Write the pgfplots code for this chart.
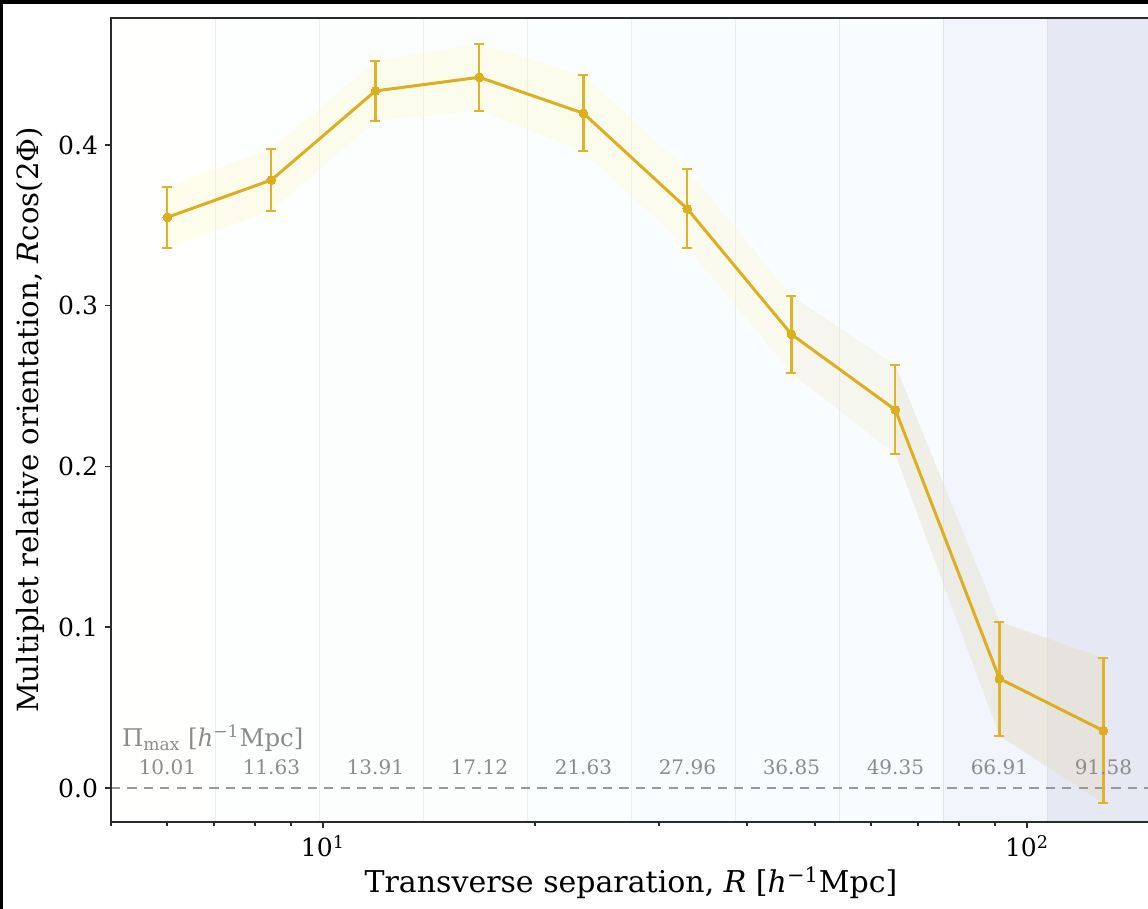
\documentclass[border=0pt]{standalone}
\usepackage{fontspec}
\setmainfont{DejaVu Serif}
\usepackage{pgfplots}
\pgfplotsset{compat=1.18}
\definecolor{gold}{HTML}{DDAE1E}
\definecolor{goldbar}{HTML}{DFB22A}
\definecolor{pigray}{HTML}{8C8C8C}
\definecolor{spine}{HTML}{2B2B2B}
\definecolor{bgA}{HTML}{FFFFFE}
\definecolor{bgB}{HTML}{FDFEFE}
\definecolor{bgC}{HTML}{FCFEFE}
\definecolor{bgD}{HTML}{FCFEFE}
\definecolor{bgE}{HTML}{FBFEFF}
\definecolor{bgF}{HTML}{FAFDFF}
\definecolor{bgG}{HTML}{FAFDFF}
\definecolor{bgH}{HTML}{F9FCFE}
\definecolor{bgI}{HTML}{F3F5FD}
\definecolor{bgJ}{HTML}{E6E8F4}
\definecolor{bandA}{HTML}{FFFAC0}
\definecolor{bandB}{HTML}{FCF8C8}
\definecolor{bandC}{HTML}{EFEBD0}
\definecolor{bandD}{HTML}{E4E0CC}
\definecolor{bandF}{HTML}{E6DFCC}
\pgfplotstableread{
x y e
6.0128 0.3550 0.0188
8.4486 0.3782 0.0194
11.8712 0.4336 0.0186
16.6804 0.4421 0.0207
23.4378 0.4197 0.0237
32.9327 0.3602 0.0246
46.2741 0.2822 0.0240
65.0202 0.2352 0.0277
91.3605 0.0680 0.0355
128.37 0.0356 0.0452
}\datatable
\begin{document}
\begin{tikzpicture}[x=1pt,y=1pt]
\useasboundingbox (0,0) rectangle (574,-454.5);
\clip (0,0) rectangle (574,-454.5);
\fill[white] (0,0) rectangle (574,-454.5);
\begin{axis}[
  at={(55.5pt,-411pt)}, anchor=south west,
  scale only axis, width=520pt, height=402pt,
  xmode=log, xmin=5, xmax=150, ymin=-0.0212, ymax=0.479,
  axis on top,
  axis line style={spine, line width=0.9pt},
  tick style={spine, line width=0.8pt},
  tick align=outside, tick pos=left,
  major tick length=3pt, minor tick length=2pt,
  xtick={10,100}, xticklabels={10\textsuperscript{1},10\textsuperscript{2}},
  minor xtick={5,6,7,8,9,20,30,40,50,60,70,80,90},
  ytick={0,0.1,0.2,0.3,0.4}, yticklabels={0.0,0.1,0.2,0.3,0.4},
  minor y tick num=0,
  tick label style={font=\fontsize{12.5}{14}\selectfont},
  xlabel={Transverse separation, {\itshape R} [{\itshape h}\textsuperscript{−1}Mpc]},
  ylabel={Multiplet relative orientation, {\itshape R}cos(2Φ)},
  xlabel style={font=\fontsize{15}{18}\selectfont, at={(axis description cs:0.5,0)}, anchor=base, yshift=-35.5pt},
  ylabel style={font=\fontsize{14.6}{18}\selectfont, at={(axis description cs:-0.077,0.5)}, anchor=center},
]
% background bins
\addplot[draw=black!7, line width=0.4pt, fill=bgA] coordinates {(5,-1) (7.02555,-1) (7.02555,1) (5,1)} -- cycle;
\addplot[draw=black!7, line width=0.4pt, fill=bgB] coordinates {(7.02555,-1) (9.87167,-1) (9.87167,1) (7.02555,1)} -- cycle;
\addplot[draw=black!7, line width=0.4pt, fill=bgC] coordinates {(9.87167,-1) (13.8708,-1) (13.8708,1) (9.87167,1)} -- cycle;
\addplot[draw=black!7, line width=0.4pt, fill=bgD] coordinates {(13.8708,-1) (19.4900,-1) (19.4900,1) (13.8708,1)} -- cycle;
\addplot[draw=black!7, line width=0.4pt, fill=bgE] coordinates {(19.4900,-1) (27.3856,-1) (27.3856,1) (19.4900,1)} -- cycle;
\addplot[draw=black!7, line width=0.4pt, fill=bgF] coordinates {(27.3856,-1) (38.4798,-1) (38.4798,1) (27.3856,1)} -- cycle;
\addplot[draw=black!8, line width=0.4pt, fill=bgG] coordinates {(38.4798,-1) (54.0684,-1) (54.0684,1) (38.4798,1)} -- cycle;
\addplot[draw=black!9, line width=0.4pt, fill=bgH] coordinates {(54.0684,-1) (75.9720,-1) (75.9720,1) (54.0684,1)} -- cycle;
\addplot[draw=black!11, line width=0.4pt, fill=bgI] coordinates {(75.9720,-1) (106.749,-1) (106.749,1) (75.9720,1)} -- cycle;
\addplot[draw=black!12, line width=0.4pt, fill=bgJ] coordinates {(106.749,-1) (150,-1) (150,1) (106.749,1)} -- cycle;
% uncertainty band, per segment
\addplot[draw=none, fill=bandA, fill opacity=0.28] coordinates {(6.0128,0.3362) (8.4486,0.3588) (8.4486,0.3976) (6.0128,0.3738)} -- cycle;
\addplot[draw=none, fill=bandA, fill opacity=0.28] coordinates {(8.4486,0.3588) (11.8712,0.4150) (11.8712,0.4522) (8.4486,0.3976)} -- cycle;
\addplot[draw=none, fill=bandA, fill opacity=0.28] coordinates {(11.8712,0.4150) (16.6804,0.4214) (16.6804,0.4628) (11.8712,0.4522)} -- cycle;
\addplot[draw=none, fill=bandA, fill opacity=0.28] coordinates {(16.6804,0.4214) (23.4378,0.3960) (23.4378,0.4434) (16.6804,0.4628)} -- cycle;
\addplot[draw=none, fill=bandA, fill opacity=0.28] coordinates {(23.4378,0.3960) (32.9327,0.3356) (32.9327,0.3848) (23.4378,0.4434)} -- cycle;
\addplot[draw=none, fill=bandB, fill opacity=0.3] coordinates {(32.9327,0.3356) (46.2741,0.2582) (46.2741,0.3062) (32.9327,0.3848)} -- cycle;
\addplot[draw=none, fill=bandC, fill opacity=0.35] coordinates {(46.2741,0.2582) (65.0202,0.2075) (65.0202,0.2629) (46.2741,0.3062)} -- cycle;
\addplot[draw=none, fill=bandD, fill opacity=0.45] coordinates {(65.0202,0.2075) (91.3605,0.0325) (91.3605,0.1035) (65.0202,0.2629)} -- cycle;
\addplot[draw=none, fill=bandF, fill opacity=0.55] coordinates {(91.3605,0.0325) (128.37,-0.0096) (128.37,0.0808) (91.3605,0.1035)} -- cycle;
% zero line
\addplot[color=black!40, line width=0.6pt, dash pattern=on 4.6pt off 3.6pt] coordinates {(5,0) (150,0)};
% error bars
\addplot[goldbar, only marks, mark=none, forget plot,
  error bars/.cd, y dir=both, y explicit,
  error bar style={goldbar, line width=1.1pt},
  error mark options={goldbar, rotate=90, mark size=2.5pt, line width=1pt}]
  table[x=x, y=y, y error=e] {\datatable};
% line with markers
\addplot[gold, line width=1.5pt, mark=*, mark size=2.2pt, mark options={fill=gold, draw=gold, line width=0pt}]
  table[x=x, y=y] {\datatable};
% Pi_max labels
\begin{scope}[every node/.style={font=\fontsize{10}{12}\selectfont, text=pigray, inner sep=0pt, anchor=center}]
\node at (axis cs:6.0128,0.0131) {10.01};
\node at (axis cs:8.4486,0.0131) {11.63};
\node at (axis cs:11.8712,0.0131) {13.91};
\node at (axis cs:16.6804,0.0131) {17.12};
\node at (axis cs:23.4378,0.0131) {21.63};
\node at (axis cs:32.9327,0.0131) {27.96};
\node at (axis cs:46.2741,0.0131) {36.85};
\node at (axis cs:65.0202,0.0131) {49.35};
\node at (axis cs:91.3605,0.0131) {66.91};
\node at (axis cs:128.37,0.0131) {91.58};
\end{scope}
\node[anchor=base west, inner sep=0pt, xshift=5.35pt, text=pigray, font=\fontsize{12.2}{15}\selectfont] at (axis cs:5,0.0257) {Π\textsubscript{max} [{\itshape h}\textsuperscript{−1}Mpc]};
\end{axis}
\fill[black] (0,0) rectangle (574,-2);
\fill[black] (0,0) rectangle (1.5,-454.5);
\end{tikzpicture}
\end{document}
